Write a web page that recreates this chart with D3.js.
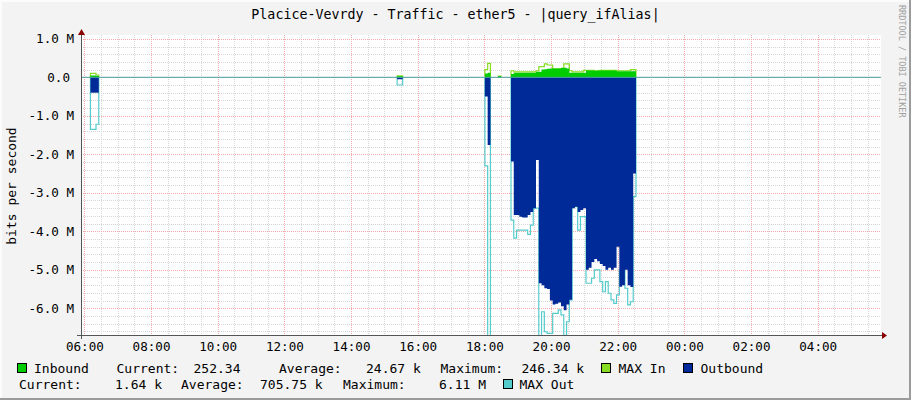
<!DOCTYPE html>
<html>
<head>
<meta charset="utf-8">
<script src="https://cdn.jsdelivr.net/npm/d3@7"></script>
<style>
body { margin: 0; background: #f3f3f3; }
svg text { font-family: "DejaVu Sans Mono", monospace; white-space: pre; fill: #000; }
</style>
</head>
<body>
<script>
const title = 'Placice-Vevrdy - Traffic - ether5 - |query_ifAlias|';
const yTitle = 'bits per second';
const watermark = 'RRDTOOL / TOBI OETIKER';

const xTicks = ['06:00', '08:00', '10:00', '12:00', '14:00', '16:00', '18:00', '20:00', '22:00', '00:00', '02:00', '04:00'];
const yTicks = [1, 0, -1, -2, -3, -4, -5, -6];
const yTickLabels = ['1.0 M', '0.0', '-1.0 M', '-2.0 M', '-3.0 M', '-4.0 M', '-5.0 M', '-6.0 M'];

// start of each run of 5 minute samples
const segStarts = ['06:11', '15:23', '18:01', '18:25', '18:48'];

// values in Mbit/s, one per 5 minute step
const inbound = [
    [0.05, 0.05, 0.04],
    [0.03, 0.03],
    [0.10, 0.12],
    [0.03],
    [0.085, 0.12, 0.12, 0.12, 0.12, 0.12, 0.12, 0.12, 0.12, 0.146, 0.146, 0.20, 0.21, 0.22, 0.23,
     0.23, 0.23, 0.23, 0.25, 0.25, 0.23, 0.12, 0.12, 0.12, 0.12, 0.12, 0.12, 0.18, 0.18, 0.18,
     0.17, 0.18, 0.18, 0.18, 0.18, 0.18, 0.18, 0.18, 0.16, 0.16, 0.16, 0.16, 0.16, 0.16, 0.16]
];
const maxIn = [
    [0.10, 0.10, 0.06],
    [0.04, 0.04],
    [0.20, 0.36],
    [0.03],
    [0.17, 0.14, 0.14, 0.14, 0.14, 0.14, 0.14, 0.14, 0.14, 0.17, 0.28, 0.28, 0.35, 0.32, 0.32,
     0.22, 0.22, 0.22, 0.22, 0.35, 0.35, 0.17, 0.14, 0.14, 0.14, 0.14, 0.18, 0.18, 0.18, 0.18,
     0.16, 0.17, 0.18, 0.18, 0.18, 0.18, 0.18, 0.18, 0.17, 0.17, 0.17, 0.17, 0.17, 0.20, 0.20]
];
const outbound = [
    [-0.40, -0.40, -0.40],
    [-0.05, -0.05],
    [-0.50, -1.76],
    [0],
    [-2.19, -3.58, -3.58, -3.62, -3.64, -3.64, -3.58, -3.50, -3.40, -2.15, -5.35, -5.40, -5.48, -5.50, -5.80,
     -5.90, -5.88, -5.85, -5.95, -6.05, -5.90, -5.78, -3.40, -3.36, -3.50, -3.45, -3.40, -5.00, -4.95, -4.80,
     -4.72, -4.78, -4.85, -4.90, -5.00, -4.95, -5.00, -4.95, -4.40, -5.44, -5.40, -5.00, -5.40, -5.45, -2.50]
];
const maxOut = [
    [-1.35, -1.35, -1.22],
    [-0.20, -0.20],
    [-2.30, -8.00],
    [0],
    [-3.71, -4.18, -3.97, -3.97, -3.97, -3.97, -4.08, -3.84, -3.40, -3.40, -7.50, -6.09, -6.61, -6.65, -6.65,
     -6.13, -6.13, -6.04, -6.17, -6.70, -6.35, -5.78, -3.36, -3.36, -3.97, -3.62, -3.62, -5.35, -5.35, -5.22,
     -5.00, -5.00, -5.31, -5.57, -5.31, -5.61, -5.78, -5.87, -5.65, -5.00, -5.00, -5.48, -5.91, -5.83, -3.10]
];

const legendRow1 = [
    {x: 34, t: 'Inbound'}, {x: 116.5, t: 'Current:'}, {x: 193.5, t: '252.34'},
    {x: 279, t: 'Average:'}, {x: 366, t: '24.67 k'}, {x: 440.5, t: 'Maximum:'},
    {x: 521.5, t: '246.34 k'}, {x: 618.5, t: 'MAX In'}, {x: 700.5, t: 'Outbound'}
];
const legendRow2 = [
    {x: 19, t: 'Current:'}, {x: 115, t: '1.64 k'}, {x: 181, t: 'Average:'},
    {x: 260, t: '705.75 k'}, {x: 343, t: 'Maximum:'}, {x: 439, t: '6.11 M'}, {x: 519.5, t: 'MAX Out'}
];
const legendSwatches = [
    {x: 17.5, y: 363.5, color: '#00cc00'},
    {x: 601.5, y: 363.5, color: '#88dd22'},
    {x: 683.5, y: 363.5, color: '#002a97'},
    {x: 503.5, y: 379.5, color: '#55cccc'}
];

const colors = {inbound: '#00cc00', maxIn: '#88dd22', outbound: '#002a97', maxOut: '#55cccc'};

const W = 911, H = 400;
const plot = {left: 81, right: 881, top: 35, bottom: 335};

function at(hm) {
    const [h, m] = hm.split(':').map(Number);
    return new Date(2020, 0, (h * 60 + m) < 354 ? 2 : 1, h, m);
}

const x = d3.scaleTime()
    .domain([new Date(2020, 0, 1, 5, 54), new Date(2020, 0, 2, 5, 54)])
    .range([plot.left, plot.right]);
const y = d3.scaleLinear().domain([-6.694e6, 1.099e6]).range([plot.bottom, plot.top]);

const svg = d3.select('body').append('svg')
    .attr('width', W)
    .attr('height', H);

// canvas + border
svg.append('rect').attr('width', W).attr('height', H).attr('fill', '#f3f3f3');
svg.append('rect').attr('x', 0).attr('y', 0).attr('width', W).attr('height', 2).attr('fill', '#fcfcfc');
svg.append('rect').attr('x', 0).attr('y', 0).attr('width', 2).attr('height', H).attr('fill', '#fcfcfc');
svg.append('rect').attr('x', W - 2).attr('y', 0).attr('width', 2).attr('height', H).attr('fill', '#9b9b9b');
svg.append('rect').attr('x', 0).attr('y', H - 2).attr('width', W).attr('height', 2).attr('fill', '#9b9b9b');

svg.append('rect')
    .attr('x', plot.left).attr('y', plot.top)
    .attr('width', plot.right - plot.left).attr('height', plot.bottom - plot.top)
    .attr('fill', '#ffffff');

// grid
const grid = svg.append('g').attr('stroke-dasharray', '1,1').attr('stroke-width', 1);
const minorX = d3.timeMinute.every(30).range(...x.domain());
const majorX = xTicks.map(at);
const minorY = d3.range(-33, 6).map(k => k * 2e5);

grid.selectAll('.mx').data(minorX).join('line')
    .attr('x1', d => Math.round(x(d)) + 0.5).attr('x2', d => Math.round(x(d)) + 0.5)
    .attr('y1', plot.top).attr('y2', plot.bottom)
    .attr('stroke', '#d6d6d6');
grid.selectAll('.my').data(minorY).join('line')
    .attr('x1', plot.left).attr('x2', plot.right)
    .attr('y1', d => Math.round(y(d)) + 0.5).attr('y2', d => Math.round(y(d)) + 0.5)
    .attr('stroke', '#d6d6d6');
grid.selectAll('.Mx').data(majorX).join('line')
    .attr('x1', d => Math.round(x(d)) + 0.5).attr('x2', d => Math.round(x(d)) + 0.5)
    .attr('y1', plot.top).attr('y2', plot.bottom)
    .attr('stroke', '#f2aaaa');
grid.selectAll('.My').data(yTicks).join('line')
    .attr('x1', plot.left).attr('x2', plot.right)
    .attr('y1', d => Math.round(y(d * 1e6)) + 0.5).attr('y2', d => Math.round(y(d * 1e6)) + 0.5)
    .attr('stroke', '#f2aaaa');

// data
svg.append('clipPath').attr('id', 'clip')
    .append('rect')
    .attr('x', plot.left).attr('y', plot.top)
    .attr('width', plot.right - plot.left).attr('height', plot.bottom - plot.top);
const g = svg.append('g').attr('clip-path', 'url(#clip)');

const STEP = 5 * 60 * 1000;
function points(seg, vals) {
    const t0 = +at(segStarts[seg]);
    const pts = vals.map((v, i) => ({t: t0 + i * STEP, v: v * 1e6}));
    pts.push({t: t0 + vals.length * STEP, v: vals[vals.length - 1] * 1e6});
    return pts;
}
function closed(pts) {
    return [{t: pts[0].t, v: 0}, ...pts, {t: pts[pts.length - 1].t, v: 0}];
}

const area = d3.area()
    .x(d => x(d.t)).y0(y(0)).y1(d => y(d.v))
    .curve(d3.curveStepAfter);
const line = d3.line()
    .x(d => x(d.t)).y(d => y(d.v))
    .curve(d3.curveStepAfter);

segStarts.forEach((s, i) => {
    g.append('path').attr('d', line(closed(points(i, maxIn[i]))))
        .attr('fill', 'none').attr('stroke', colors.maxIn).attr('stroke-width', 1.2);
    g.append('path').attr('d', line(closed(points(i, maxOut[i]))))
        .attr('fill', 'none').attr('stroke', colors.maxOut).attr('stroke-width', 1.2);
    g.append('path').attr('d', area(points(i, outbound[i])))
        .attr('fill', colors.outbound);
    g.append('path').attr('d', area(points(i, inbound[i])))
        .attr('fill', colors.inbound);
});

// zero line
svg.append('line')
    .attr('x1', plot.left).attr('x2', plot.right)
    .attr('y1', y(0)).attr('y2', y(0))
    .attr('stroke', '#46a0a0').attr('stroke-width', 1);

// axes lines with arrows
svg.append('line')
    .attr('x1', plot.left - 4).attr('x2', plot.right + 2)
    .attr('y1', plot.bottom + 0.5).attr('y2', plot.bottom + 0.5)
    .attr('stroke', '#555');
svg.append('line')
    .attr('x1', plot.left + 0.5).attr('x2', plot.left + 0.5)
    .attr('y1', plot.bottom + 4).attr('y2', plot.top - 1)
    .attr('stroke', '#555');
svg.append('path')
    .attr('d', `M${plot.right + 1},${plot.bottom - 3}L${plot.right + 6},${plot.bottom + 0.5}L${plot.right + 1},${plot.bottom + 4}Z`)
    .attr('fill', '#8b0000');
svg.append('path')
    .attr('d', `M${plot.left - 3},${plot.top}L${plot.left + 0.5},${plot.top - 6}L${plot.left + 4},${plot.top}Z`)
    .attr('fill', '#8b0000');

// tick labels
const xAxis = d3.axisBottom(x)
    .tickValues(majorX)
    .tickFormat(d3.timeFormat('%H:%M'))
    .tickSize(0)
    .tickPadding(7);
const gx = svg.append('g')
    .attr('transform', `translate(0, ${plot.bottom})`)
    .call(xAxis);
gx.select('.domain').remove();
gx.selectAll('text').attr('font-size', 12.6).attr('font-family', '"DejaVu Sans Mono", monospace');

const yAxis = d3.axisLeft(y)
    .tickValues(yTicks.map(v => v * 1e6))
    .tickFormat((d, i) => yTickLabels[i])
    .tickSize(0)
    .tickPadding(7);
const gy = svg.append('g')
    .attr('transform', `translate(${plot.left}, 0)`)
    .call(yAxis);
gy.select('.domain').remove();
gy.selectAll('text')
    .attr('font-size', 12.6).attr('font-family', '"DejaVu Sans Mono", monospace')
    .attr('dx', (d, i) => yTickLabels[i].endsWith('M') ? 0 : -4);

// titles
svg.append('text')
    .attr('x', W / 2).attr('y', 19)
    .attr('text-anchor', 'middle')
    .attr('font-size', 13.3)
    .text(title);
svg.append('text')
    .attr('transform', 'translate(16, 186) rotate(-90)')
    .attr('text-anchor', 'middle')
    .attr('font-size', 13)
    .text(yTitle);
svg.append('text')
    .attr('transform', 'translate(899, 5) rotate(90)')
    .attr('font-size', 8.5)
    .style('fill', '#a0a0a0')
    .text(watermark);

// legend
svg.selectAll('.sw').data(legendSwatches).join('rect')
    .attr('x', d => d.x).attr('y', d => d.y)
    .attr('width', 9).attr('height', 9)
    .attr('fill', d => d.color)
    .attr('stroke', '#000');
svg.selectAll('.l1').data(legendRow1).join('text')
    .attr('x', d => d.x).attr('y', 372.5)
    .attr('font-size', 13)
    .text(d => d.t);
svg.selectAll('.l2').data(legendRow2).join('text')
    .attr('x', d => d.x).attr('y', 389)
    .attr('font-size', 13)
    .text(d => d.t);
</script>
</body>
</html>
